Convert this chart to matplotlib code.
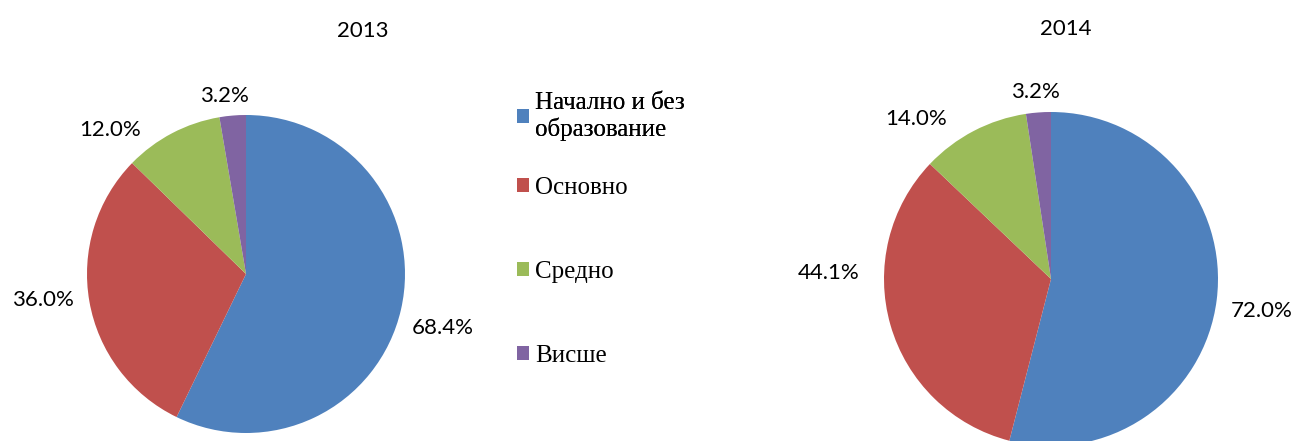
import matplotlib
matplotlib.use("Agg")
import matplotlib.pyplot as plt

W, H = 1301, 441

categories = ["Начално и без\nобразование", "Основно", "Средно", "Висше"]
values_2013 = [68.4, 36.0, 12.0, 3.2]
values_2014 = [72.0, 44.1, 14.0, 3.2]
years = ["2013", "2014"]

COLORS = ["#4F81BD", "#C0504D", "#9BBB59", "#8064A2"]
SANS = ["Lato", "DejaVu Sans"]
SERIF = ["Liberation Serif", "DejaVu Serif"]

# label offsets in pie-radius units (Excel "best fit" placement)
LABEL_POS_2013 = [(1.24, -0.34), (-1.277, -0.164), (-0.855, 0.906), (-0.138, 1.12)]
LABEL_POS_2014 = [(1.263, -0.19), (-1.33, 0.036), (-0.81, 0.96), (-0.096, 1.12)]


def pie_axes(fig, cx, cy, r):
    # cx, cy, r in pixels (cy from top)
    ax = fig.add_axes([(cx - r) / W, (H - cy - r) / H, 2 * r / W, 2 * r / H])
    ax.set_aspect("equal")
    ax.axis("off")
    return ax


def draw_pie(ax, values, label_pos):
    wedges, _ = ax.pie(values, colors=COLORS, startangle=90, counterclock=False,
                       radius=1.0, wedgeprops=dict(linewidth=0))
    ax.set_xlim(-1, 1)
    ax.set_ylim(-1, 1)
    for v, (x, y) in zip(values, label_pos):
        ax.text(x, y, f"{v:.1f}%", ha="center", va="center", fontsize=16,
                family=SANS, clip_on=False)
    return wedges


fig = plt.figure(figsize=(W / 100, H / 100), dpi=100)

ax1 = pie_axes(fig, 246, 274, 159)
wedges = draw_pie(ax1, values_2013, LABEL_POS_2013)

ax2 = pie_axes(fig, 1051, 279, 167)
draw_pie(ax2, values_2014, LABEL_POS_2014)

fig.text(363 / W, 1 - 31 / H, years[0], ha="center", va="center", fontsize=16, family=SANS)
fig.text(1066 / W, 1 - 29 / H, years[1], ha="center", va="center", fontsize=16, family=SANS)

# Excel leaves less room after the two-line entry, so the legend is split in two
leg_kw = dict(loc="upper left", frameon=False, borderpad=0, handlelength=0.48,
              handleheight=0.48, handletextpad=0.25, labelspacing=2.49,
              prop={"family": SERIF, "size": 18})
leg1 = fig.legend(wedges[:1], categories[:1], bbox_to_anchor=(504 / W, 1 - 79 / H), **leg_kw)
fig.add_artist(leg1)
fig.legend(wedges[1:], categories[1:], bbox_to_anchor=(504 / W, 1 - 164 / H), **leg_kw)

fig.savefig("out.png", dpi=100)
